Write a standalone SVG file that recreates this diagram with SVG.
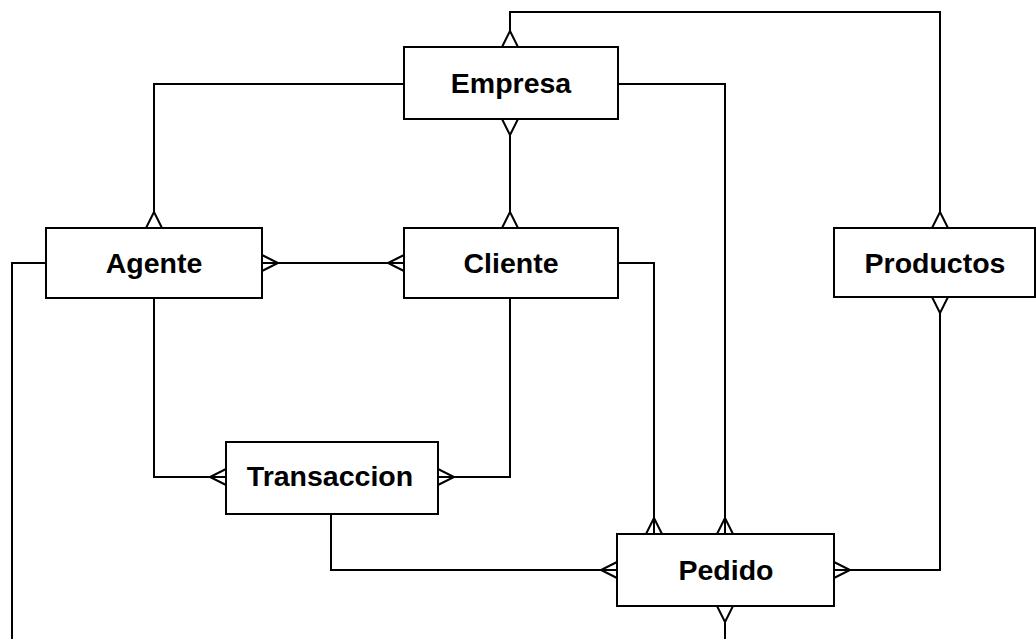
<svg xmlns="http://www.w3.org/2000/svg" width="1036" height="639" viewBox="0 0 1036 639">
<style>
.box{fill:#fff;stroke:#000;stroke-width:2}
.lbl{font-family:"Liberation Sans",Arial,sans-serif;font-weight:bold;font-size:28.5px;fill:#000;text-anchor:middle}
.ln{fill:none;stroke:#000;stroke-width:2}
</style>
<rect width="1036" height="639" fill="#fff"/>
<g id="connectors" class="ln">
<!-- Empresa top - Productos top -->
<path d="M510,31 V12 H940 V212"/>
<path d="M502,47 L510,31 L518,47 M932,228 L940,212 L948,228"/>
<!-- Empresa left - Agente top -->
<path d="M404,84 H154 V212"/>
<path d="M146,228 L154,212 L162,228"/>
<!-- Empresa bottom - Cliente top -->
<path d="M510,135 V212"/>
<path d="M502,119 L510,135 L518,119 M502,228 L510,212 L518,228"/>
<!-- Empresa right - Pedido top -->
<path d="M618,84 H725 V534"/>
<path d="M717,534 L725,518 L733,534"/>
<!-- Agente right - Cliente left -->
<path d="M262,263 H404"/>
<path d="M262,255 L278,263 L262,271 M404,255 L388,263 L404,271"/>
<!-- Agente left - down -->
<path d="M46,263 H12 V639"/>
<!-- Agente bottom - Transaccion left -->
<path d="M154,298 V477 H226"/>
<path d="M226,469 L210,477 L226,485"/>
<!-- Cliente bottom - Transaccion right -->
<path d="M510,298 V477 H438"/>
<path d="M438,469 L454,477 L438,485"/>
<!-- Cliente right - Pedido top -->
<path d="M618,263 H654 V534"/>
<path d="M646,534 L654,518 L662,534"/>
<!-- Transaccion bottom - Pedido left -->
<path d="M331,514 V570 H617"/>
<path d="M617,562 L601,570 L617,578"/>
<!-- Pedido right - Productos bottom -->
<path d="M834,570 H940 V313"/>
<path d="M834,562 L850,570 L834,578 M932,297 L940,313 L948,297"/>
<!-- Pedido bottom - down -->
<path d="M725,622 V639"/>
<path d="M717,606 L725,622 L733,606"/>
</g>
<g id="empresa"><rect class="box" x="404" y="47" width="214" height="72"/><text class="lbl" x="511" y="93">Empresa</text></g>
<g id="agente"><rect class="box" x="46" y="228" width="216" height="70"/><text class="lbl" x="154" y="273">Agente</text></g>
<g id="cliente"><rect class="box" x="404" y="228" width="214" height="70"/><text class="lbl" x="511" y="273">Cliente</text></g>
<g id="productos"><rect class="box" x="834" y="228" width="201" height="69"/><text class="lbl" x="935" y="273">Productos</text></g>
<g id="transaccion"><rect class="box" x="226" y="442" width="212" height="72"/><text class="lbl" x="330" y="486">Transaccion</text></g>
<g id="pedido"><rect class="box" x="617" y="534" width="217" height="72"/><text class="lbl" x="726" y="580">Pedido</text></g>
</svg>
